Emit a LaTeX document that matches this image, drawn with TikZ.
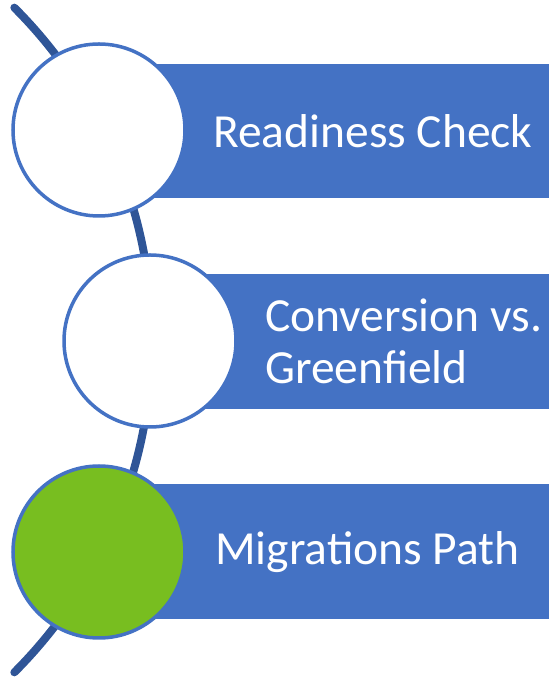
\documentclass[tikz,border=0pt]{standalone}
\usepackage{fontspec}
\setmainfont{Carlito}
\usepackage{tikz}

\definecolor{barblue}{HTML}{4472C4}
\definecolor{arcblue}{HTML}{2F5597}
\definecolor{stepgreen}{HTML}{78BE20}

\begin{document}
\begin{tikzpicture}[x=1pt,y=1pt,
		bar/.style={fill=barblue},
		stage/.style={circle, draw=barblue, line width=3.5pt, fill=white, minimum size=172pt, inner sep=0pt},
		label/.style={anchor=west, inner sep=0pt, text=white, align=left, font=\fontsize{47.5}{52}\selectfont}]
			\useasboundingbox (0,0) rectangle (549,679);
			% the curve behind the stages
			\coordinate (hub) at (-318,339);
			\draw[arcblue, line width=8pt, line cap=round] (hub) ++(45:470) arc[start angle=45, end angle=-45, radius=470];
			% bars
			\fill[bar] (100,481) rectangle (549,615);
			\fill[bar] (150,270) rectangle (549,405);
			\fill[bar] (100,60) rectangle (549,195);
			% stages
			\node[stage] (ready) at (99,549) {};
			\node[stage] (conv) at (150,338) {};
			\node[stage, fill=stepgreen] (migr) at (99,127) {};
			\node[label] (readytext) at (213,548) {Readiness Check};
			\node[label] (convtext) at (265,338) {Conversion vs.\\Greenfield};
			\node[label] (migrtext) at (215,127) {Migrations Path};
		\end{tikzpicture}
\end{document}
